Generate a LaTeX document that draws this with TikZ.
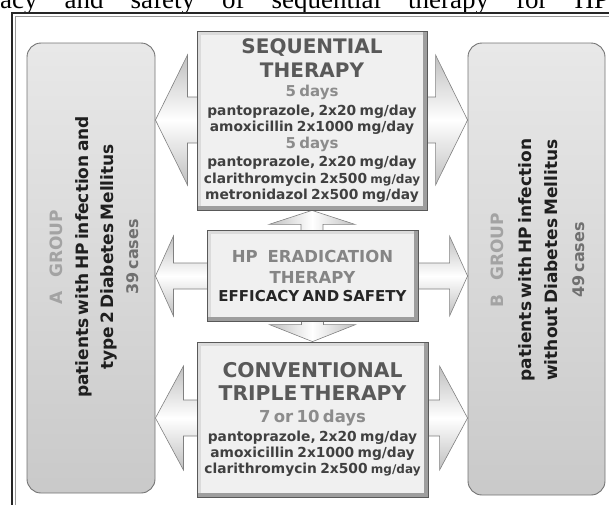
\documentclass[tikz,border=0pt]{standalone}
\usepackage{fontspec}
\setmainfont{DejaVu Sans}
\newfontfamily\capfont{Liberation Serif}
\usetikzlibrary{calc,backgrounds}
\setlength{\parindent}{0pt}
\setlength{\parskip}{0pt}

\definecolor{ttlgray}{HTML}{595959}
\definecolor{daygray}{HTML}{8C8C8C}
\definecolor{txtgray}{HTML}{404040}
\definecolor{eradgray}{HTML}{858585}
\definecolor{grplight}{HTML}{A3A3A3}
\definecolor{casegray}{HTML}{707070}

% one line of box text: size, baseline skip, text
\newcommand{\tline}[3]{{\fontsize{#1}{#2}\selectfont #3\par}}
\newcommand{\mgday}{{\fontsize{12}{12}\selectfont mg/day}}
% fat double arrow: left tip, right tip, head length, head half width, shaft half width
\newcommand{\hfat}[5]{\path[fatarrow] (#1) -- ($(#1)+(#3,-#4)$) -- ($(#1)+(#3,-#5)$)
  -- ($(#2)+(-#3,-#5)$) -- ($(#2)+(-#3,-#4)$) -- (#2) -- ($(#2)+(-#3,#4)$)
  -- ($(#2)+(-#3,#5)$) -- ($(#1)+(#3,#5)$) -- ($(#1)+(#3,#4)$) -- cycle;}

\begin{document}
\begin{tikzpicture}[x=1pt, y=-1pt,
  grpbox/.style={draw=black!55, line width=0.9pt, rounded corners=14pt,
    top color=black!9, bottom color=black!21},
  grptext/.style={rotate=90, align=center, text width=420pt, inner sep=0pt,
    font=\bfseries, text=black!88},
  thbox/.style={draw=black!65, line width=0.8pt, fill=black!6, align=center,
    inner sep=0pt, font=\bfseries, text=txtgray,
    path picture={
      \draw[black!14, line width=8pt] (path picture bounding box.south west) |- (path picture bounding box.north east);
      \draw[black!38, line width=8pt] (path picture bounding box.south west) -| (path picture bounding box.north east);}},
  fatarrow/.style={draw=black!50, line width=0.6pt, top color=black!25,
    bottom color=black!25, middle color=white},
  vfatarrow/.style={draw=black!50, line width=0.6pt, left color=black!25,
    right color=black!25, middle color=white}
]
\useasboundingbox (0,0) rectangle (609,504);
\clip (0,0) rectangle (609,504);

% caption line, cut off by the page
\node[anchor=base west, inner sep=0pt, font=\capfont\fontsize{27}{27}\selectfont] (caption) at (0,8)
  {\makebox[609pt][s]{acy and safety of sequential therapy for HP}};

% frame
\draw[black!85, line width=1.3pt] (12,13) rectangle (650,540);
\draw[black!40, line width=0.7pt] (15,16) rectangle (647,537);

% patient groups
\node[grpbox, minimum width=128pt, minimum height=450pt] (grpA) at (91,268) {};
\node[grpbox, minimum width=137pt, minimum height=452pt] (grpB) at (536.5,269) {};
\node[grptext] (grpAtext) at (94,257) {
  \tline{17}{17}{\color{grplight}A\hspace{0.8em}GROUP}
  \tline{17}{26}{patients with HP infection and}
  \tline{17}{25}{type 2 Diabetes Mellitus}
  \tline{16}{25}{\color{casegray}39 cases}};
\node[grptext] (grpBtext) at (538,260) {
  \tline{17}{17}{\color{grplight}B\hspace{0.8em}GROUP}
  \tline{17}{28}{patients with HP infection}
  \tline{17}{26}{without Diabetes Mellitus}
  \tline{16}{27}{\color{casegray}49 cases}};

% therapies
\node[thbox, minimum width=230pt, minimum height=179pt, text width=224pt] (seq) at (312,120.5) {
  \tline{20}{20}{\color{ttlgray}SEQUENTIAL}
  \tline{20}{24}{\color{ttlgray}THERAPY}
  \tline{15}{19}{\color{daygray}5 days}
  \tline{13.8}{19}{pantoprazole, 2x20 mg/day}
  \tline{13.8}{16}{amoxicillin 2x1000 mg/day}
  \tline{15}{17}{\color{daygray}5 days}
  \tline{13.8}{18}{pantoprazole, 2x20 mg/day}
  \tline{13.8}{17}{clarithromycin 2x500 \mgday}
  \tline{13.8}{16}{metronidazol 2x500 mg/day}};
\node[thbox, minimum width=211pt, minimum height=91pt, text width=205pt] (erad) at (312.5,275.5) {
  \tline{16.5}{16}{\color{eradgray}HP\hspace{0.6em}ERADICATION}
  \tline{16.5}{21}{\color{eradgray}THERAPY}
  \tline{15}{18}{\color{black!85}EFFICACY AND SAFETY}};
\node[thbox, minimum width=231pt, minimum height=155pt, text width=225pt] (conv) at (312.5,419.5) {
  \tline{20.3}{20}{\color{ttlgray}CONVENTIONAL}
  \tline{20.3}{23}{\color{ttlgray}TRIPLE THERAPY}
  \tline{16.5}{22}{\color{daygray}7 or 10 days}
  \tline{13.8}{19}{pantoprazole, 2x20 mg/day}
  \tline{13.8}{16}{amoxicillin 2x1000 mg/day}
  \tline{13.8}{16}{clarithromycin 2x500 \mgday}};

% arrows behind the boxes
\begin{scope}[on background layer]
\coordinate (topL) at (grpA.east |- 0,120);
\coordinate (topR) at (grpB.west |- 0,120);
\coordinate (midL) at (grpA.east |- 0,276);
\coordinate (midR) at (grpB.west |- 0,276);
\coordinate (botL) at (grpA.east |- 0,418);
\coordinate (botR) at (grpB.west |- 0,418);
\hfat{topL}{topR}{32}{65}{23}
\hfat{midL}{midR}{18}{40}{13}
\hfat{botL}{botR}{28}{52}{18}
\path[vfatarrow] (seq.south) -- ($(seq.south)+(-43,14)$) -- ($(seq.south)+(-11,14)$)
  -- ($(conv.north)+(-11,-17)$) -- ($(conv.north)+(-43,-17)$) -- (conv.north)
  -- ($(conv.north)+(43,-17)$) -- ($(conv.north)+(11,-17)$) -- ($(seq.south)+(11,14)$)
  -- ($(seq.south)+(43,14)$) -- cycle;
\end{scope}
\end{tikzpicture}
\end{document}
